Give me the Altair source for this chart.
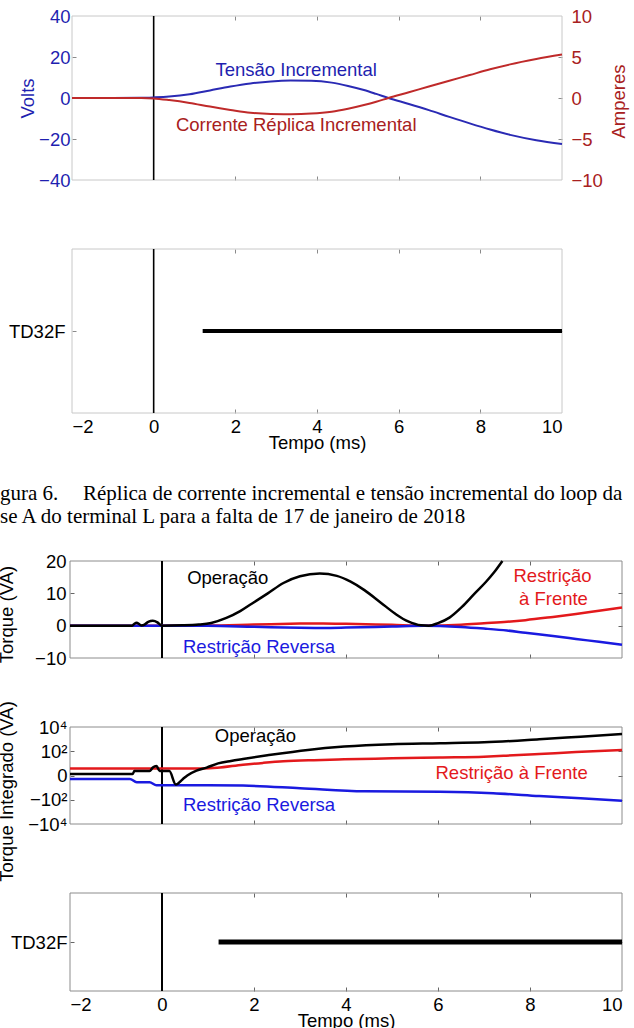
import altair as alt
import pandas as pd

# ---------------- data ----------------
# Figure 6 top: incremental voltage (V) and incremental replica current (A)
tempo_sup = [-2.0, -1.0, -0.3, 0.0, 0.38, 0.88, 1.38, 1.88, 2.37, 2.87, 3.36, 3.86, 4.36,
             4.76, 5.15, 5.45, 5.75, 6.25, 6.74, 7.24, 7.74, 8.24, 8.73, 9.37, 10.0]
tensao_inc = [0.0, 0.0, 0.1, 0.3, 0.7, 1.8, 3.7, 5.6, 7.1, 8.1, 8.5, 8.4, 7.5,
              5.9, 3.9, 2.0, 0.0, -2.9, -5.9, -9.2, -12.4, -15.4, -18.0, -20.6, -22.4]
corrente_inc = [0.0, 0.0, 0.0, -0.05, -0.25, -0.6, -1.05, -1.45, -1.8, -1.95, -1.97, -1.9, -1.67,
                -1.3, -0.85, -0.45, 0.0, 0.7, 1.4, 2.1, 2.8, 3.5, 4.1, 4.75, 5.3]

# TD32F element assertion (ms)
td32f_ini_sup = 1.2
td32f_ini_inf = 1.23
td32f_fim = 10.0

# Bottom figure: torques (VA)
op_t = [-2.0, -0.65, -0.6, -0.55, -0.5, -0.45, -0.38, -0.3, -0.2, -0.1, -0.03, 0.0, 0.45, 0.8,
        1.07, 1.4, 1.7, 1.95, 2.3, 2.64, 3.0, 3.43, 3.8, 4.1, 4.4, 4.75, 5.1, 5.35, 5.63, 5.8,
        6.0, 6.25, 6.52, 6.8, 7.04, 7.22, 7.4]
op_v = [0.0, 0.0, 0.6, 0.9, 0.5, 0.05, 0.3, 1.2, 1.5, 1.0, 0.2, 0.0, 0.1, 0.35,
        0.85, 2.4, 4.5, 6.8, 10.0, 13.2, 15.3, 16.1, 15.4, 13.6, 11.0, 7.2, 3.4, 1.3, 0.1, 0.0,
        0.8, 2.5, 5.8, 10.0, 13.5, 16.5, 20.0]
rest_t = [-2.0, 0.0, 1.0, 2.0, 3.0, 3.5, 4.0, 5.0, 5.7, 6.5, 7.0, 7.5, 7.9, 8.5, 9.0, 9.5, 10.0]
rest_frente_v = [0.0, 0.0, 0.05, 0.35, 0.65, 0.7, 0.6, 0.25, 0.0, 0.3, 0.75, 1.2, 1.7, 2.7, 3.6, 4.6, 5.6]
rest_reversa_v = [0.0, 0.0, -0.05, -0.35, -0.65, -0.7, -0.6, -0.25, 0.0, -0.4, -0.9, -1.5, -2.2, -3.2, -4.1, -5.0, -5.9]

# Integrated torques (VA)
iop_t = [-2.0, -0.64, -0.6, -0.27, -0.2, -0.12, -0.05, 0.16, 0.3, 0.45, 0.55, 0.75, 0.97, 1.22,
         1.5, 1.76, 2.29, 3.17, 3.96, 5.0, 6.04, 7.0, 8.2, 9.1, 10.0]
iop_v = [0.3, 0.3, 1.3, 1.3, 3.5, 5.0, 1.3, 1.3, -4.5, -1.0, 0.0, 1.5, 3.5, 9.0,
         15.0, 22.0, 45.0, 128.0, 240.0, 380.0, 450.0, 540.0, 965.0, 1600.0, 2650.0]
ifr_t = [-2.0, 0.9, 1.2, 1.76, 2.2, 2.64, 3.3, 3.96, 5.0, 6.04, 7.0, 7.48, 8.2, 9.0, 10.0]
ifr_v = [2.8, 2.8, 3.3, 6.8, 10.0, 13.7, 17.5, 20.5, 25.0, 30.0, 35.0, 42.0, 58.0, 85.0, 126.0]
irv_t = [-2.0, -0.7, -0.55, -0.27, -0.12, 1.0, 1.76, 3.0, 4.4, 6.04, 7.2, 8.2, 9.1, 10.0]
irv_v = [-0.9, -0.9, -2.6, -2.6, -5.4, -5.5, -5.8, -10.0, -19.0, -21.0, -28.0, -48.0, -75.0, -119.0]

# annotation texts (positions in data units)
txt_sup = ["Tensão Incremental", "Corrente Réplica Incremental"]
txt_sup_t = [3.49, 3.49]
txt_sup_v = [13.7, -13.2]
txt_tq = ["Operação", "Restrição", "à Frente", "Restrição Reversa"]
txt_tq_t = [1.43, 8.49, 8.51, 2.11]
txt_tq_v = [14.7, 15.5, 8.4, -6.5]
txt_it = ["Operação", "Restrição à Frente", "Restrição Reversa"]
txt_it_t = [2.03, 7.60, 2.11]
txt_it_v = [1807.0, 0.6, -269.0]

legenda_a = "gura 6."
legenda_b = "Réplica de corrente incremental e tensão incremental do loop da"
legenda_c = "se A do terminal L para a falta de 17 de janeiro de 2018"

x_ticks = [-2, 0, 2, 4, 6, 8, 10]

# ---------------- style ----------------
FONT = "Liberation Sans"
SERIF = "Liberation Serif"
FS = 18.5
AZUL1, VERM1 = "#2a2ab4", "#bf2a2a"
AZUL1_TXT, VERM1_TXT = "#1f1fb0", "#a82020"
AZUL2, VERM2 = "#1a1ae0", "#e3191c"
TICK_LEN = 4

P1 = dict(xr=[72, 562], yr=[180, 16], dom=[-40, 40])
P2 = dict(xr=[72, 562], yr=[413, 249], dom=[0, 2])
P3 = dict(xr=[70, 622], yr=[658, 561], dom=[-10, 20])
P4 = dict(xr=[70, 622], yr=[824, 727], dom=[-10000, 10000])
P5 = dict(xr=[70, 622], yr=[991, 893], dom=[0, 2])
TOTAL_H = 1028
TOTAL_W = 634


def sx(p):
    return alt.Scale(domain=[-2, 10], range=p["xr"], nice=False, zero=False)


def sy(p, dom=None, log=False):
    d = dom if dom is not None else p["dom"]
    if log:
        return alt.Scale(type="symlog", constant=1, domain=d, range=p["yr"])
    return alt.Scale(domain=d, range=p["yr"], nice=False, zero=False)


def frame(p, yticks, stroke, tickcolor, log=False):
    h = abs(p["yr"][0] - p["yr"][1])
    w = p["xr"][1] - p["xr"][0]
    df = pd.DataFrame({"x0": [-2], "x1": [10], "y0": [p["dom"][0]], "y1": [p["dom"][1]]})
    return alt.Chart(df).mark_rect(fill="white", fillOpacity=0, stroke=stroke, strokeWidth=1).encode(
        x=alt.X("x0:Q", scale=sx(p), axis=alt.Axis(orient="top", grid=True,
                                                  gridDash=[TICK_LEN, h - 2 * TICK_LEN],
                                                  gridColor=tickcolor, gridWidth=1, values=[2, 4, 6, 8],
                                                  labels=False, ticks=False, domain=False, title=None)),
        x2="x1:Q",
        y=alt.Y("y0:Q", scale=sy(p, log=log), axis=alt.Axis(orient="left", grid=True,
                                                          gridDash=[TICK_LEN, w - 2 * TICK_LEN],
                                                          gridColor=tickcolor, gridWidth=1, values=yticks,
                                                          labels=False, ticks=False, domain=False, title=None)),
        y2="y1:Q",
    )


def vline(p, width, log=False):
    df = pd.DataFrame({"t": [0.0], "y0": [p["dom"][0]], "y1": [p["dom"][1]]})
    return alt.Chart(df).mark_rule(color="black", strokeWidth=width).encode(
        x=alt.X("t:Q", scale=sx(p), axis=None),
        y=alt.Y("y0:Q", scale=sy(p, log=log), axis=None),
        y2="y1:Q",
    )


def serie(p, t, v, color, width, yaxis=None, dom=None, log=False):
    df = pd.DataFrame({"t": t, "v": v})
    return alt.Chart(df).mark_line(color=color, strokeWidth=width, interpolate="monotone").encode(
        x=alt.X("t:Q", scale=sx(p), axis=None),
        y=alt.Y("v:Q", scale=sy(p, dom=dom, log=log), axis=yaxis),
    )


def textos(p, t, v, labels, colors, log=False):
    df = pd.DataFrame({"t": t, "v": v, "rotulo": labels, "cor": colors})
    return alt.Chart(df).mark_text(font=FONT, fontSize=FS, align="center", baseline="middle").encode(
        x=alt.X("t:Q", scale=sx(p), axis=None),
        y=alt.Y("v:Q", scale=sy(p, log=log), axis=None),
        text="rotulo:N",
        color=alt.Color("cor:N", scale=None),
    )


def td32f(p, ini, width, label_pad):
    df = pd.DataFrame({"ini": [ini], "fim": [td32f_fim], "nivel": [1]})
    off = p["yr"][0] - TOTAL_H
    return alt.Chart(df).mark_rule(color="black", strokeWidth=width).encode(
        x=alt.X("ini:Q", scale=sx(p), axis=alt.Axis(orient="bottom", offset=off, values=x_ticks,
                                                   ticks=False, domain=False, grid=False, labelPadding=4,
                                                   labelFontSize=FS, labelColor="black",
                                                   title="Tempo (ms)", titleY=35, titleBaseline="alphabetic")),
        x2="fim:Q",
        y=alt.Y("nivel:Q", scale=sy(p), axis=alt.Axis(orient="left", offset=-p["xr"][0], values=[1],
                                                      labelExpr="'TD32F'", ticks=False, domain=False,
                                                      grid=False, labelPadding=label_pad, labelColor="black",
                                                      labelFontSize=FS, title=None)),
    )


def caption(txt, x, y):
    return alt.Chart(pd.DataFrame({"txt": [txt]})).mark_text(
        font=SERIF, fontSize=21, align="left", baseline="alphabetic", color="black"
    ).encode(x=alt.value(x), y=alt.value(y), text="txt:N")


layers = []

# ----- panel 1 -----
layers.append(frame(P1, [-20, 0, 20], "#c8c8c8", "#8a8a8a"))
layers.append(vline(P1, 1.6))
layers.append(serie(P1, tempo_sup, tensao_inc, AZUL1, 2,
                    yaxis=alt.Axis(orient="left", offset=-P1["xr"][0], values=[-40, -20, 0, 20, 40],
                                   ticks=False, domain=False, grid=False, labelPadding=2,
                                   labelColor=AZUL1_TXT, labelFontSize=FS,
                                   title="Volts", titleColor=AZUL1_TXT, titleAngle=270,
                                   titleBaseline="alphabetic", titleX=-38.5, titleY=98)))
layers.append(serie(P1, tempo_sup, corrente_inc, VERM1, 2, dom=[-10, 10],
                    yaxis=alt.Axis(orient="right", offset=P1["xr"][1] - TOTAL_W, values=[-10, -5, 0, 5, 10],
                                   ticks=False, domain=False, grid=False, labelPadding=9,
                                   labelColor=VERM1_TXT, labelFontSize=FS,
                                   title="Amperes", titleColor=VERM1_TXT, titleAngle=270,
                                   titleBaseline="alphabetic", titleX=62, titleY=101)))
layers.append(textos(P1, txt_sup_t, txt_sup_v, txt_sup, [AZUL1_TXT, VERM1_TXT]))

# ----- panel 2 -----
layers.append(frame(P2, [1], "#c8c8c8", "#8a8a8a"))
layers.append(vline(P2, 1.6))
layers.append(td32f(P2, td32f_ini_sup, 4, 7))

# ----- caption -----
layers.append(caption(legenda_a, 0, 500))
layers.append(caption(legenda_b, 83, 500))
layers.append(caption(legenda_c, 0, 523))

# ----- panel 3 -----
layers.append(frame(P3, [0, 10], "#8c8c8c", "#666666"))
layers.append(vline(P3, 2))
layers.append(serie(P3, rest_t, rest_frente_v, VERM2, 2.5))
layers.append(serie(P3, rest_t, rest_reversa_v, AZUL2, 2.5))
layers.append(serie(P3, op_t, op_v, "black", 2.5,
                    yaxis=alt.Axis(orient="left", offset=-P3["xr"][0], values=[-10, 0, 10, 20],
                                   ticks=False, domain=False, grid=False, labelPadding=4,
                                   labelColor="black", labelFontSize=FS,
                                   title="Torque (VA)", titleAngle=270, titleBaseline="alphabetic",
                                   titleX=-58, titleY=614)))
layers.append(textos(P3, txt_tq_t, txt_tq_v, txt_tq, ["black", VERM2, VERM2, AZUL2]))

# ----- panel 4 -----
lbl = ("datum.value == 10000 ? '10⁴' : datum.value == 100 ? '10²' : datum.value == 0 ? '0' : "
       "datum.value == -100 ? '−10²' : '−10⁴'")
layers.append(frame(P4, [-100, 0, 100], "#8c8c8c", "#666666", log=True))
layers.append(vline(P4, 2, log=True))
layers.append(serie(P4, ifr_t, ifr_v, VERM2, 2.5, log=True))
layers.append(serie(P4, irv_t, irv_v, AZUL2, 2.5, log=True))
layers.append(serie(P4, iop_t, iop_v, "black", 2.5, log=True,
                    yaxis=alt.Axis(orient="left", offset=-P4["xr"][0], values=[-10000, -100, 0, 100, 10000],
                                   labelExpr=lbl, ticks=False, domain=False, grid=False, labelPadding=3,
                                   labelColor="black", labelFontSize=FS,
                                   title="Torque Integrado (VA)", titleAngle=270, titleBaseline="alphabetic",
                                   titleX=-58, titleY=791)))
layers.append(textos(P4, txt_it_t, txt_it_v, txt_it, ["black", VERM2, AZUL2], log=True))

# ----- panel 5 -----
layers.append(frame(P5, [1], "#8c8c8c", "#666666"))
layers.append(vline(P5, 2))
layers.append(td32f(P5, td32f_ini_inf, 5, 3))

chart = alt.layer(*layers).resolve_scale(
    x="independent", y="independent", color="independent"
).resolve_axis(
    x="independent", y="independent"
).properties(
    width=TOTAL_W, height=TOTAL_H, padding=0,
    autosize=alt.AutoSizeParams(type="none"),
).configure_view(stroke=None).configure_axis(
    labelFont=FONT, titleFont=FONT, titleFontSize=FS, titleFontWeight="normal", titleColor="black",
)

chart.save("out.html", embed_options={"renderer": "svg", "actions": False})
